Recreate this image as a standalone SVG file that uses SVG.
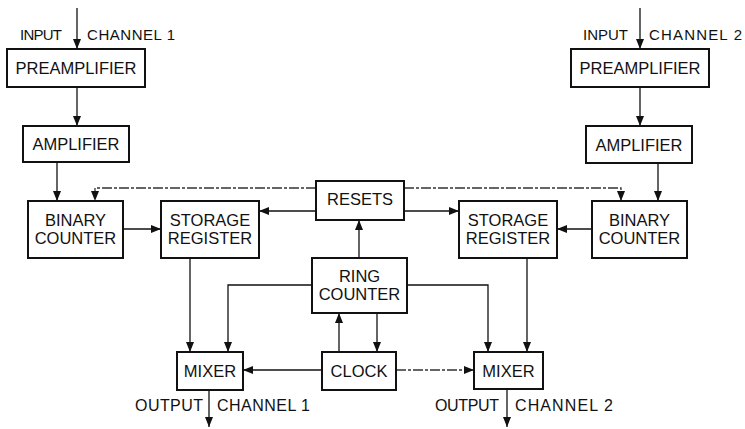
<svg xmlns="http://www.w3.org/2000/svg" width="745" height="429" viewBox="0 0 745 429">
<style>
.box{fill:#fff;stroke:#111;stroke-width:2}
.t{font-family:"Liberation Sans",Arial,sans-serif;font-size:16.5px;fill:#111;text-anchor:middle}
.lbl{font-family:"Liberation Sans",Arial,sans-serif;font-size:15px;fill:#111}
.lb2{font-family:"Liberation Sans",Arial,sans-serif;font-size:16px;fill:#111}
.c{fill:none;stroke:#111;stroke-width:1.3}
.d{stroke-dasharray:10 2 3 2;stroke:#333}
</style>
<defs>
<marker id="ah" markerWidth="10" markerHeight="8" refX="10" refY="4" orient="auto" markerUnits="userSpaceOnUse">
<path d="M0,0 L10,4 L0,8 Z" fill="#111"/>
</marker>
</defs>
<rect width="745" height="429" fill="#fff"/>
<g id="connectors">
<path class="c" d="M77,8 V49" marker-end="url(#ah)"/>
<path class="c" d="M77,87 V126" marker-end="url(#ah)"/>
<path class="c" d="M57,162 V201" marker-end="url(#ah)"/>
<path class="c" d="M640,8 V49" marker-end="url(#ah)"/>
<path class="c" d="M640,87 V126" marker-end="url(#ah)"/>
<path class="c" d="M658,163 V201" marker-end="url(#ah)"/>
<path class="c d" d="M316,188 H95 V201" marker-end="url(#ah)"/>
<path class="c d" d="M404,188 H621 V201" marker-end="url(#ah)"/>
<path class="c" d="M316,211 H259" marker-end="url(#ah)"/>
<path class="c" d="M404,211 H459" marker-end="url(#ah)"/>
<path class="c" d="M123,229 H161" marker-end="url(#ah)"/>
<path class="c" d="M592,229 H557" marker-end="url(#ah)"/>
<path class="c" d="M359,258 V220" marker-end="url(#ah)"/>
<path class="c" d="M190,258 V352" marker-end="url(#ah)"/>
<path class="c" d="M527,258 V352" marker-end="url(#ah)"/>
<path class="c" d="M312,285 H228 V352" marker-end="url(#ah)"/>
<path class="c" d="M407,285 H488 V352" marker-end="url(#ah)"/>
<path class="c" d="M339,352 V313" marker-end="url(#ah)"/>
<path class="c" d="M377,313 V352" marker-end="url(#ah)"/>
<path class="c" d="M322,370 H243" marker-end="url(#ah)"/>
<path class="c d" d="M396,370 H474" marker-end="url(#ah)"/>
<path class="c" d="M209,390 V427" marker-end="url(#ah)"/>
<path class="c" d="M507,389 V427" marker-end="url(#ah)"/>
</g>
<g id="in1-label">
<text class="lbl" x="20" y="40" textLength="42">INPUT</text>
<text class="lbl" x="87" y="40" textLength="88">CHANNEL 1</text>
</g>
<g id="in2-label">
<text class="lbl" x="583" y="40" textLength="45">INPUT</text>
<text class="lbl" x="649" y="40" textLength="93">CHANNEL 2</text>
</g>
<g id="preamp1"><rect class="box" x="7" y="49" width="138" height="38"/><text class="t" x="76" y="74">PREAMPLIFIER</text></g>
<g id="amp1"><rect class="box" x="23" y="126" width="106" height="36"/><text class="t" x="76" y="150">AMPLIFIER</text></g>
<g id="preamp2"><rect class="box" x="571" y="49" width="138" height="38"/><text class="t" x="640" y="74">PREAMPLIFIER</text></g>
<g id="amp2"><rect class="box" x="586" y="126" width="106" height="37"/><text class="t" x="639" y="151">AMPLIFIER</text></g>
<g id="bc1"><rect class="box" x="28" y="201" width="95" height="57"/><text class="t" x="75.5" y="226">BINARY</text><text class="t" x="75.5" y="244">COUNTER</text></g>
<g id="sr1"><rect class="box" x="161" y="201" width="98" height="57"/><text class="t" x="210" y="226">STORAGE</text><text class="t" x="210" y="244">REGISTER</text></g>
<g id="resets"><rect class="box" x="316" y="181" width="88" height="39"/><text class="t" x="360" y="205">RESETS</text></g>
<g id="sr2"><rect class="box" x="459" y="201" width="98" height="57"/><text class="t" x="508" y="226">STORAGE</text><text class="t" x="508" y="244">REGISTER</text></g>
<g id="bc2"><rect class="box" x="592" y="201" width="95" height="57"/><text class="t" x="639.5" y="226">BINARY</text><text class="t" x="639.5" y="244">COUNTER</text></g>
<g id="ring"><rect class="box" x="312" y="258" width="95" height="55"/><text class="t" x="359.5" y="282">RING</text><text class="t" x="359.5" y="300">COUNTER</text></g>
<g id="mixer1"><rect class="box" x="177" y="352" width="66" height="38"/><text class="t" x="210" y="377">MIXER</text></g>
<g id="clock"><rect class="box" x="322" y="352" width="74" height="38"/><text class="t" x="359" y="377">CLOCK</text></g>
<g id="mixer2"><rect class="box" x="474" y="352" width="69" height="37"/><text class="t" x="508.5" y="377">MIXER</text></g>
<g id="out1-label">
<text class="lb2" x="135" y="411" textLength="68">OUTPUT</text>
<text class="lb2" x="217" y="411" textLength="93">CHANNEL 1</text>
</g>
<g id="out2-label">
<text class="lb2" x="435" y="411" textLength="64">OUTPUT</text>
<text class="lb2" x="515" y="411" textLength="98">CHANNEL 2</text>
</g>
</svg>
